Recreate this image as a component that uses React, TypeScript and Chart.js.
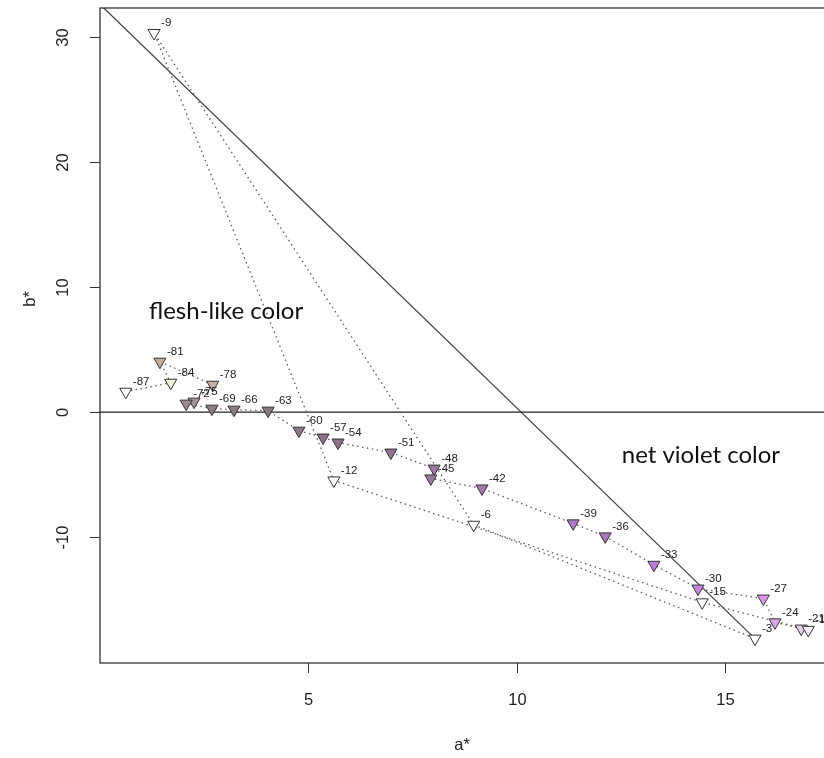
import React, { useEffect, useRef } from "react";
import { Chart, registerables } from "chart.js";

Chart.register(...registerables);

// Point labels (sequence order, connected by the dotted path)
const pointLabels = [
  "-87", "-84", "-81", "-78", "-75", "-72", "-69", "-66", "-63", "-60",
  "-57", "-54", "-51", "-48", "-45", "-42", "-39", "-36", "-33", "-30",
  "-27", "-24", "-21", "-18", "-15", "-12", "-9", "-6", "-3",
];

// a* values
const aValues = [
  0.61, 1.69, 1.43, 2.70, 2.25, 2.06, 2.68, 3.21, 4.03, 4.77,
  5.35, 5.71, 6.98, 8.02, 7.94, 9.17, 11.36, 12.13, 13.30, 14.36,
  15.93, 16.21, 16.84, 17.01, 14.46, 5.61, 1.29, 8.97, 15.73,
];

// b* values
const bValues = [
  1.63, 2.35, 4.03, 2.19, 0.84, 0.68, 0.28, 0.20, 0.12, -1.48,
  -2.03, -2.43, -3.23, -4.51, -5.30, -6.10, -8.89, -9.93, -12.2, -14.1,
  -14.9, -16.8, -17.3, -17.4, -15.2, -5.46, 30.3, -9.0, -18.1,
];

// marker fill colours
const fillColors = [
  "#ffffff", "#f3f1d9", "#c4ae9c", "#c9aca4", "#a49494", "#9c8c8c", "#8e7c80", "#8c7a7e", "#8a787e", "#8c7686",
  "#8c728c", "#8e728e", "#947296", "#9a78a2", "#9a76a2", "#a47caa", "#ac7cc4", "#a878b8", "#b880d4", "#c488dc",
  "#dc98e8", "#dca4ec", "#e8ccf0", "#f4eef6", "#ffffff", "#ffffff", "#ffffff", "#ffffff", "#ffffff",
];

// reference lines
const zeroLineA = [-1, 20];
const zeroLineB = [0, 0];
const diagLineA = [0, 15.73];
const diagLineB = [32.56, -18.1];

// axis ticks
const xTicks = [5, 10, 15];
const yTicks = [-10, 0, 10, 20, 30];

// region annotations
const annotationTexts = ["flesh-like color", "net violet color"];
const annotationA = [3.02, 14.43];
const annotationB = [8.1, -3.47];

const X_MIN = -0.01;
const X_MAX = 17.58;
const Y_MIN = -20.05;
const Y_MAX = 32.3;

const decorPlugin = {
  id: "rDecor",
  afterDatasetsDraw(chart: any) {
    const { ctx, chartArea: ca, scales } = chart;
    const x = scales.x;
    const y = scales.y;
    ctx.save();

    // box
    ctx.strokeStyle = "#333";
    ctx.lineWidth = 1.3;
    ctx.strokeRect(ca.left, ca.top, ca.right - ca.left, ca.bottom - ca.top);

    // ticks
    ctx.fillStyle = "#222";
    ctx.font = '16.5px "Liberation Sans", Arial, sans-serif';
    ctx.textAlign = "center";
    ctx.textBaseline = "middle";
    ctx.lineWidth = 1;
    xTicks.forEach((v) => {
      const px = Math.round(x.getPixelForValue(v)) + 0.5;
      ctx.beginPath();
      ctx.moveTo(px, ca.bottom);
      ctx.lineTo(px, ca.bottom + 10);
      ctx.stroke();
      ctx.fillText(String(v), px, ca.bottom + 37);
    });
    yTicks.forEach((v) => {
      const py = Math.round(y.getPixelForValue(v)) + 0.5;
      ctx.beginPath();
      ctx.moveTo(ca.left - 10, py);
      ctx.lineTo(ca.left, py);
      ctx.stroke();
      ctx.save();
      ctx.translate(63, py);
      ctx.rotate(-Math.PI / 2);
      ctx.fillText(String(v), 0, 0);
      ctx.restore();
    });

    // axis titles
    ctx.fillText("a*", (ca.left + ca.right) / 2 - 4, 745);
    ctx.save();
    ctx.translate(30, 299);
    ctx.rotate(-Math.PI / 2);
    ctx.fillText("b*", 0, 0);
    ctx.restore();

    // point labels
    const meta = chart.getDatasetMeta(0);
    ctx.fillStyle = "#222";
    ctx.font = '11.5px "Liberation Sans", Arial, sans-serif';
    ctx.textAlign = "left";
    meta.data.forEach((el: any, i: number) => {
      ctx.fillText(pointLabels[i], el.x + 7, el.y - 10);
    });

    // annotations
    ctx.fillStyle = "#111";
    ctx.font = '24px Lato, "Open Sans", sans-serif';
    ctx.textAlign = "center";
    annotationTexts.forEach((t, i) => {
      ctx.fillText(t, x.getPixelForValue(annotationA[i]), y.getPixelForValue(annotationB[i]));
    });

    ctx.restore();
  },
};

export default function App() {
  const ref = useRef<HTMLCanvasElement | null>(null);

  useEffect(() => {
    if (!ref.current) return;
    const chart = new Chart(ref.current, {
      type: "scatter",
      data: {
        datasets: [
          {
            data: aValues.map((a, i) => ({ x: a, y: bValues[i] })),
            showLine: true,
            borderColor: "#5a5a5a",
            borderWidth: 1.3,
            borderDash: [1.5, 3.5],
            pointStyle: "triangle",
            pointRotation: 180,
            pointRadius: 7,
            pointHoverRadius: 7,
            pointBackgroundColor: fillColors,
            pointBorderColor: "#333",
            pointBorderWidth: 1,
            order: 0,
          } as any,
          {
            data: zeroLineA.map((a, i) => ({ x: a, y: zeroLineB[i] })),
            showLine: true,
            borderColor: "#222",
            borderWidth: 1.3,
            pointRadius: 0,
            order: 1,
          },
          {
            data: diagLineA.map((a, i) => ({ x: a, y: diagLineB[i] })),
            showLine: true,
            borderColor: "#444",
            borderWidth: 1.3,
            pointRadius: 0,
            order: 1,
          },
        ],
      },
      options: {
        animation: false,
        responsive: false,
        events: [],
        layout: { padding: { top: 6, right: 8, left: 0, bottom: 0 } },
        plugins: { legend: { display: false }, tooltip: { enabled: false } },
        scales: {
          x: {
            type: "linear",
            min: X_MIN,
            max: X_MAX,
            ticks: { display: false },
            grid: { display: false },
            border: { display: false },
            afterFit: (s: any) => {
              s.height = 95;
            },
          },
          y: {
            type: "linear",
            min: Y_MIN,
            max: Y_MAX,
            ticks: { display: false },
            grid: { display: false },
            border: { display: false },
            afterFit: (s: any) => {
              s.width = 100;
            },
          },
        },
      },
      plugins: [decorPlugin],
    });
    return () => chart.destroy();
  }, []);

  return (
    <div
      style={{
        position: "fixed",
        left: 0,
        top: 0,
        width: 824,
        height: 758,
        overflow: "hidden",
        background: "#fff",
      }}
    >
      <canvas ref={ref} width={840} height={758} style={{ width: 840, height: 758, display: "block" }} />
    </div>
  );
}
